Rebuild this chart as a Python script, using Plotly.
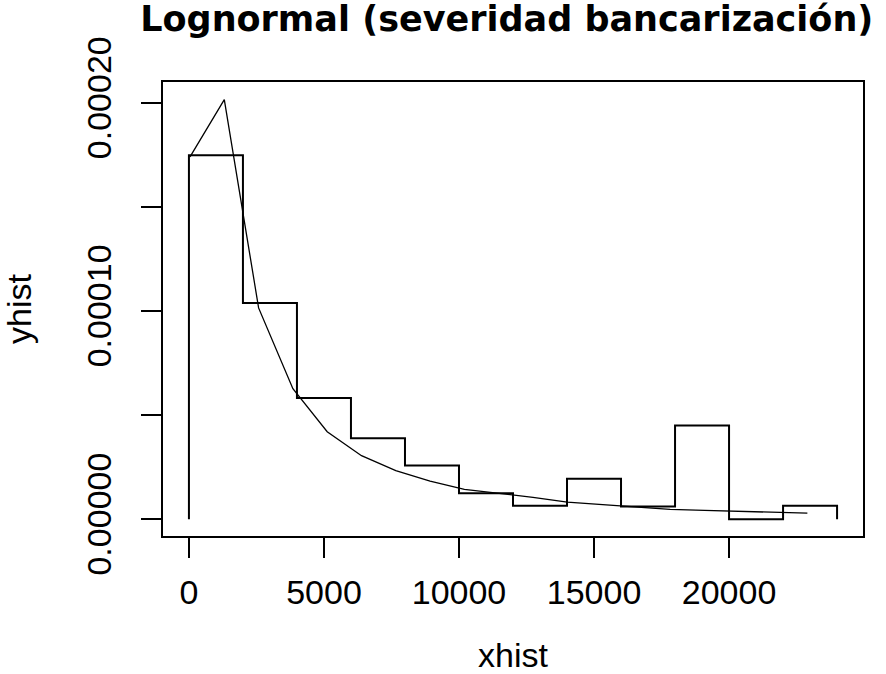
import plotly.graph_objects as go

# Histogram breaks and densities
breaks = [0, 2000, 4000, 6000, 8000, 10000, 12000, 14000, 16000, 18000, 20000, 22000, 24000]
density = [0.0001748, 0.0001038, 0.0000582, 0.0000389, 0.0000258, 0.0000125,
           0.0000064, 0.0000194, 0.0000061, 0.0000450, 0.0000000, 0.0000064]

# Fitted lognormal curve points
curve_x = [40, 1310, 2580, 3850, 5120, 6390, 7660, 8930, 10200, 11470, 12740,
           14010, 15280, 16550, 17820, 19090, 20360, 21630, 22900]
curve_y = [0.0001740, 0.0002015, 0.0001015, 0.0000627, 0.0000420, 0.0000305,
           0.0000233, 0.0000183, 0.0000143, 0.0000124, 0.0000105, 0.0000082,
           0.0000071, 0.0000059, 0.0000047, 0.0000042, 0.0000037, 0.0000034,
           0.0000029]

x_ticks = [0, 5000, 10000, 15000, 20000]
x_ticktext = ["0", "5000", "10000", "15000", "20000"]
y_ticks = [0.0, 0.00005, 0.00010, 0.00015, 0.00020]
y_ticktext = ["0.00000", "", "0.00010", "", "0.00020"]

title_text = "Lognormal (severidad bancarización)"
x_title = "xhist"
y_title = "yhist"

# Step outline of histogram
step_x = [breaks[0]] + breaks[:-1] + [breaks[-1]]
step_y = [0.0] + density + [0.0]

font_family = "Liberation Sans, Arial, Helvetica, sans-serif"

fig = go.Figure()
fig.add_trace(go.Scatter(x=step_x, y=step_y, mode="lines",
                         line=dict(color="black", width=2, shape="hv"),
                         hoverinfo="skip", showlegend=False))
fig.add_trace(go.Scatter(x=curve_x, y=curve_y, mode="lines",
                         line=dict(color="black", width=1.3),
                         hoverinfo="skip", showlegend=False))

fig.update_layout(
    width=886, height=674,
    paper_bgcolor="white", plot_bgcolor="white",
    margin=dict(l=163, r=23, t=82, b=138),
    font=dict(family=font_family, color="black"),
    title=dict(text=title_text, x=0.572, xanchor="center", y=0.972, yanchor="middle",
               font=dict(size=35, family="DejaVu Sans, Liberation Sans, sans-serif",
                         color="black", weight="bold")),
    xaxis=dict(range=[-960, 24960], tickvals=x_ticks, ticktext=x_ticktext,
               automargin=False,
               showline=True, mirror=True, linecolor="black", linewidth=2,
               ticks="outside", ticklen=20, tickwidth=1.6, tickcolor="black",
               showgrid=False, zeroline=False,
               tickfont=dict(size=34, color="black"),
               ticklabelstandoff=5,
               title=dict(text=x_title, font=dict(size=34, color="black"), standoff=43)),
    yaxis=dict(range=[-0.00000808, 0.00021], tickvals=y_ticks, ticktext=y_ticktext,
               automargin=False,
               showline=True, mirror=True, linecolor="black", linewidth=2,
               ticks="outside", ticklen=20, tickwidth=1.6, tickcolor="black",
               showgrid=False, zeroline=False, tickangle=-90,
               tickfont=dict(size=34, color="black"),
               ticklabelstandoff=16,
               title=dict(text=y_title, font=dict(size=34, color="black"), standoff=40)),
)

fig.write_html("out.html", config={"displayModeBar": False},
               post_script="document.body.style.margin='0';")
